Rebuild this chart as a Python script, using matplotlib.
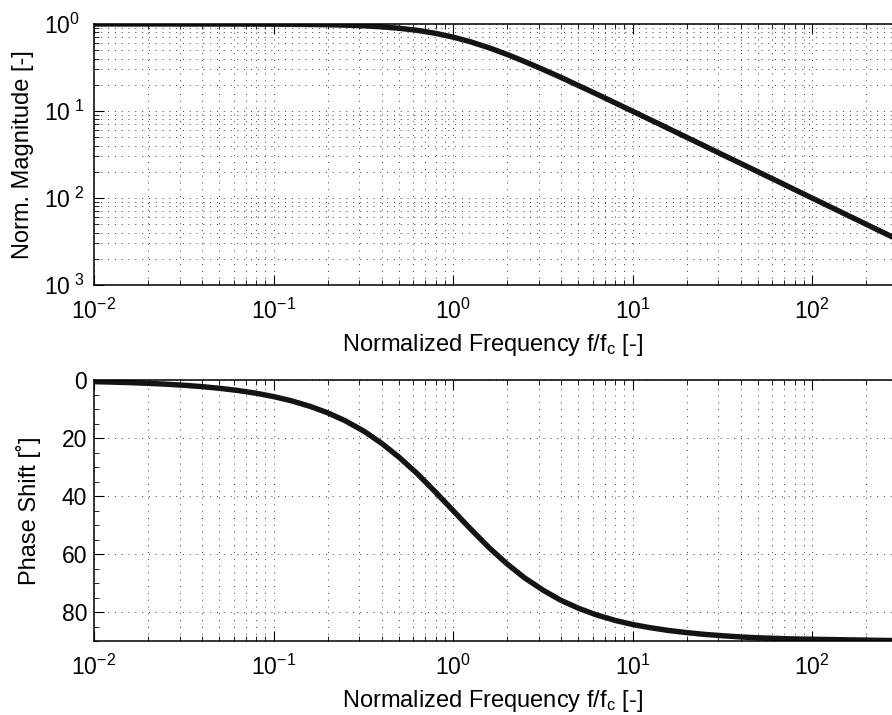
import matplotlib
matplotlib.use("Agg")
import matplotlib.pyplot as plt
from matplotlib.ticker import FixedLocator, MultipleLocator, LogLocator, NullFormatter
import numpy as np

plt.rcParams.update({
    "font.family": ["Liberation Sans", "DejaVu Sans"],
    "mathtext.fontset": "custom",
    "mathtext.rm": "Liberation Sans",
    "mathtext.it": "Liberation Sans:italic",
    "font.size": 17,
})

# values
freq = [0.01, 0.0125, 0.016, 0.02, 0.025, 0.032, 0.04, 0.05, 0.063, 0.08,
        0.1, 0.125, 0.16, 0.2, 0.25, 0.32, 0.4, 0.5, 0.63, 0.8,
        1.0, 1.25, 1.6, 2.0, 2.5, 3.2, 4.0, 5.0, 6.3, 8.0,
        10, 12.5, 16, 20, 25, 32, 40, 50, 63, 80,
        100, 160, 250, 400, 630, 1000]
magnitude = [1.0, 1.0, 1.0, 1.0, 1.0, 0.999, 0.999, 0.999, 0.998, 0.997,
             0.995, 0.992, 0.987, 0.981, 0.970, 0.952, 0.928, 0.894, 0.846, 0.781,
             0.707, 0.625, 0.530, 0.447, 0.371, 0.298, 0.243, 0.196, 0.157, 0.124,
             0.0995, 0.0797, 0.0624, 0.0499, 0.040, 0.0312, 0.025, 0.020, 0.0159, 0.0125,
             0.010, 0.00625, 0.0040, 0.0025, 0.00159, 0.0010]
phase = [0.57, 0.72, 0.92, 1.15, 1.43, 1.83, 2.29, 2.86, 3.60, 4.57,
         5.71, 7.13, 9.09, 11.3, 14.0, 17.7, 21.8, 26.6, 32.2, 38.7,
         45.0, 51.3, 58.0, 63.4, 68.2, 72.6, 76.0, 78.7, 81.0, 82.9,
         84.3, 85.4, 86.4, 87.1, 87.7, 88.2, 88.6, 88.9, 89.1, 89.3,
         89.4, 89.6, 89.8, 89.9, 89.9, 89.9]

freq_ticks = [1e-2, 1e-1, 1e0, 1e1, 1e2, 1e3]
freq_labels = ["$10^{-2}$", "$10^{-1}$", "$10^{0}$", "$10^{1}$", "$10^{2}$", ""]
mag_ticks = [1e-3, 1e-2, 1e-1, 1e0]
mag_labels = ["$10^{\\ 3}$", "$10^{\\ 2}$", "$10^{\\ 1}$", "$10^{0}$"]
phase_ticks = [0, 20, 40, 60, 80]

W, H = 892, 715
fig = plt.figure(figsize=(W / 100, H / 100), dpi=100)
ax1 = fig.add_axes([94 / W, 1 - 285 / H, (991.5 - 94) / W, 261 / H])
ax2 = fig.add_axes([94 / W, 1 - 641 / H, (991.5 - 94) / W, 261 / H])

grid_kw = dict(color="#3a3a3a", linestyle=(0, (1, 6)), linewidth=0.7)

for ax in (ax1, ax2):
    ax.set_xscale("log")
    ax.set_xlim(1e-2, 1e3)
    ax.xaxis.set_major_locator(FixedLocator(freq_ticks))
    ax.set_xticklabels(freq_labels)
    ax.xaxis.set_minor_locator(LogLocator(base=10, subs=np.arange(2, 10), numticks=20))
    ax.xaxis.set_minor_formatter(NullFormatter())
    ax.tick_params(which="both", direction="in", top=True, right=True, labelsize=16.5)
    ax.tick_params(which="major", length=7, width=0.8)
    ax.tick_params(which="minor", length=3.5, width=0.6)
    ax.tick_params(axis="x", pad=10)
    for sp in ax.spines.values():
        sp.set_linewidth(1.1)
    ax.grid(True, which="major", axis="both", **grid_kw)
    ax.grid(True, which="minor", axis="x", **grid_kw)
    ax.set_axisbelow(True)
    ax.set_xlabel("Normalized Frequency f/f$_\\mathrm{c}$ [-]", fontsize=17)
    ax.xaxis.set_label_coords((492 - 94) / 897.5, -0.18)

ax1.plot(freq, magnitude, color="#141414", linewidth=3.9, solid_capstyle="butt")
ax1.set_yscale("log")
ax1.set_ylim(1e-3, 1e0)
ax1.yaxis.set_major_locator(FixedLocator(mag_ticks))
ax1.set_yticklabels(mag_labels, ha="left")
ax1.tick_params(axis="y", pad=36)
ax1.yaxis.set_minor_locator(LogLocator(base=10, subs=np.arange(2, 10), numticks=20))
ax1.yaxis.set_minor_formatter(NullFormatter())
ax1.grid(True, which="minor", axis="y", **grid_kw)
ax1.set_ylabel("Norm. Magnitude [-]", fontsize=17)
ax1.yaxis.set_label_coords((34 - 94) / 897.5, 0.5)

ax2.plot(freq, phase, color="#141414", linewidth=3.9, solid_capstyle="butt")
ax2.set_ylim(90, 0)
ax2.yaxis.set_major_locator(FixedLocator(phase_ticks))
ax2.yaxis.set_minor_locator(MultipleLocator(5))
ax2.tick_params(axis="y", pad=5)
ax2.set_ylabel("Phase Shift [\u02da]", fontsize=17)
ax2.yaxis.set_label_coords((41 - 94) / 897.5, 0.5)

fig.savefig("out.png", dpi=100)
